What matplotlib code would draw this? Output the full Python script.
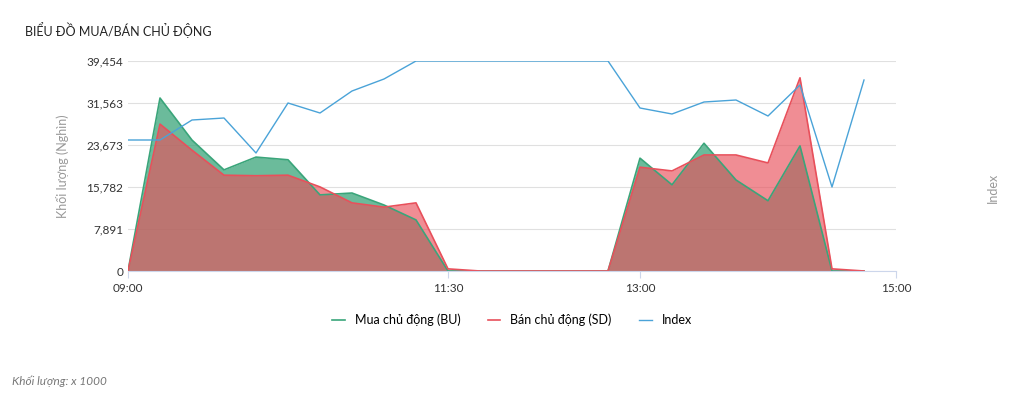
import matplotlib.pyplot as plt

plt.rcParams['font.family'] = ['Lato', 'DejaVu Sans']

# minutes since 09:00, 15-minute steps
minutes = [0, 15, 30, 45, 60, 75, 90, 105, 120, 135, 150, 165, 180, 195, 210, 225,
           240, 255, 270, 285, 300, 315, 330, 345]
bu = [0, 32500, 24600, 19000, 21400, 20900, 14300, 14650, 12400, 9600, 0, 0, 0, 0, 0, 0,
      21200, 16200, 24000, 17100, 13200, 23500, 0, 0]
sd = [0, 27600, 22700, 18000, 17900, 18000, 15800, 12800, 12000, 12800, 400, 0, 0, 0, 0, 0,
      19500, 18800, 21800, 21800, 20300, 36300, 400, 0]
index_vals = [1263.1, 1263.1, 1265.1, 1265.3, 1261.8, 1266.8, 1265.8, 1268.0, 1269.2, 1271.0,
              1271.0, 1271.0, 1271.0, 1271.0, 1271.0, 1271.0,
              1266.3, 1265.7, 1266.9, 1267.1, 1265.5, 1268.6, 1258.4, 1269.1]

yticks = [0, 7891, 15782, 23673, 31563, 39454]
xticks = [0, 150, 240, 360]
xlabels = ['09:00', '11:30', '13:00', '15:00']

green = '#3aa57a'
red = '#e8505b'
blue = '#4aa3d8'

fig = plt.figure(figsize=(10.24, 4.03), dpi=100)
ax = fig.add_axes([128/1024, 1-271/403, 768/1024, 210/403])

ax.fill_between(minutes, bu, color=green, alpha=0.75, lw=0)
ax.plot(minutes, bu, color=green, lw=1.2, label='Mua chủ động (BU)')
ax.fill_between(minutes, sd, color=red, alpha=0.65, lw=0)
ax.plot(minutes, sd, color=red, lw=1.2, label='Bán chủ động (SD)')

ax.set_xlim(0, 360)
ax.set_ylim(0, 39454)
ax.set_yticks(yticks)
ax.set_yticklabels([f'{v:,}' for v in yticks])
ax.set_xticks(xticks)
ax.set_xticklabels(xlabels)
ax.grid(axis='y', color='#e0e0e0', lw=0.8)
ax.set_axisbelow(True)
for s in ['top', 'right', 'left']:
    ax.spines[s].set_visible(False)
ax.spines['bottom'].set_color('#ccd6eb')
ax.tick_params(axis='y', length=0, labelsize=8.5, colors='#333333')
ax.tick_params(axis='x', length=5, color='#ccd6eb', labelsize=8.5, colors='#333333')
ax.set_ylabel('Khối lượng (Nghìn)', color='#999999', fontsize=9, labelpad=12)

ax2 = ax.twinx()
ax2.plot(minutes, index_vals, color=blue, lw=1, label='Index')
ax2.set_ylim(1250, 1271)
ax2.set_yticks([])
for s in ax2.spines.values():
    s.set_visible(False)
fig.text(993/1024, 1-188/403, 'Index', rotation=90, color='#999999', fontsize=9,
         ha='center', va='center')

h1, l1 = ax.get_legend_handles_labels()
h2, l2 = ax2.get_legend_handles_labels()
fig.legend(h1 + h2, l1 + l2, loc='center', bbox_to_anchor=(0.5, 1-320/403), ncol=3,
           frameon=False, fontsize=9, handlelength=1, columnspacing=2.2)

fig.text(25/1024, 1-30/403, 'BIỂU ĐỒ MUA/BÁN CHỦ ĐỘNG', fontsize=9, color='#222222', va='center')
fig.text(12/1024, 1-381/403, 'Khối lượng: x 1000', fontsize=8.5, style='italic',
         color='#777777', va='center')

fig.savefig('out.png', dpi=100)
